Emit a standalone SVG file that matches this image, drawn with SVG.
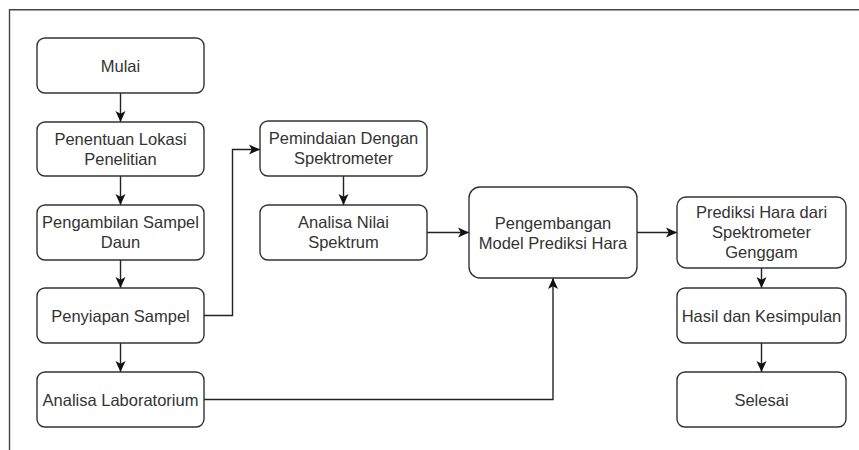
<svg xmlns="http://www.w3.org/2000/svg" width="859" height="450" viewBox="0 0 859 450">
<style>
.box{fill:#fff;stroke:#333;stroke-width:1.4}
.t{font-family:"Liberation Sans",Arial,sans-serif;font-size:16.5px;fill:#333;text-anchor:middle}
.c{fill:none;stroke:#222;stroke-width:1.4}
.frame{fill:none;stroke:#444;stroke-width:1.4}
</style>
<defs>
<marker id="ah" viewBox="0 0 11 11" refX="11" refY="5.5" markerWidth="11" markerHeight="11" markerUnits="userSpaceOnUse" orient="auto">
<path d="M0,0.5 L11,5.5 L0,10.5 L2.8,5.5 Z" fill="#111"/>
</marker>
</defs>
<rect width="859" height="450" fill="#fff"/>
<path class="frame" d="M9.5,450 V9.7 H859"/>
<g id="connectors">
<path class="c" d="M120.5,93 V122" marker-end="url(#ah)"/>
<path class="c" d="M120.5,176 V205" marker-end="url(#ah)"/>
<path class="c" d="M120.5,260 V288" marker-end="url(#ah)"/>
<path class="c" d="M120.5,343 V372" marker-end="url(#ah)"/>
<path class="c" d="M204,315.5 H232.5 V149.5 H260" marker-end="url(#ah)"/>
<path class="c" d="M343.5,176 V205" marker-end="url(#ah)"/>
<path class="c" d="M427,232.5 H469" marker-end="url(#ah)"/>
<path class="c" d="M204,399.5 H553 V278" marker-end="url(#ah)"/>
<path class="c" d="M637,232.5 H677" marker-end="url(#ah)"/>
<path class="c" d="M761.5,268 V288" marker-end="url(#ah)"/>
<path class="c" d="M761.5,343 V372" marker-end="url(#ah)"/>
</g>
<g id="mulai"><rect class="box" x="37" y="38" width="167" height="55" rx="8"/><text class="t" x="120.5" y="71.5">Mulai</text></g>
<g id="penentuan"><rect class="box" x="37" y="122" width="167" height="54" rx="8"/><text class="t" x="120.5" y="144.5">Penentuan Lokasi</text><text class="t" x="120.5" y="164.5">Penelitian</text></g>
<g id="pengambilan"><rect class="box" x="37" y="205" width="167" height="55" rx="8"/><text class="t" x="120.5" y="228">Pengambilan Sampel</text><text class="t" x="120.5" y="248">Daun</text></g>
<g id="penyiapan"><rect class="box" x="37" y="288" width="167" height="55" rx="8"/><text class="t" x="120.5" y="321.5">Penyiapan Sampel</text></g>
<g id="analisa-lab"><rect class="box" x="37" y="372" width="167" height="55" rx="8"/><text class="t" x="120.5" y="405.5">Analisa Laboratorium</text></g>
<g id="pemindaian"><rect class="box" x="260" y="121" width="167" height="55" rx="8"/><text class="t" x="343.5" y="144">Pemindaian Dengan</text><text class="t" x="343.5" y="164">Spektrometer</text></g>
<g id="analisa-nilai"><rect class="box" x="260" y="205" width="167" height="55" rx="8"/><text class="t" x="343.5" y="228">Analisa Nilai</text><text class="t" x="343.5" y="248">Spektrum</text></g>
<g id="pengembangan"><rect class="box" x="469" y="187" width="168" height="91" rx="11"/><text class="t" x="553" y="228.5">Pengembangan</text><text class="t" x="553" y="248.5">Model Prediksi Hara</text></g>
<g id="prediksi"><rect class="box" x="677" y="197" width="169" height="71" rx="9"/><text class="t" x="761.5" y="218">Prediksi Hara dari</text><text class="t" x="761.5" y="238">Spektrometer</text><text class="t" x="761.5" y="258">Genggam</text></g>
<g id="hasil"><rect class="box" x="677" y="288" width="169" height="55" rx="8"/><text class="t" x="761.5" y="321.5">Hasil dan Kesimpulan</text></g>
<g id="selesai"><rect class="box" x="677" y="372" width="169" height="55" rx="8"/><text class="t" x="761.5" y="405.5">Selesai</text></g>
</svg>
